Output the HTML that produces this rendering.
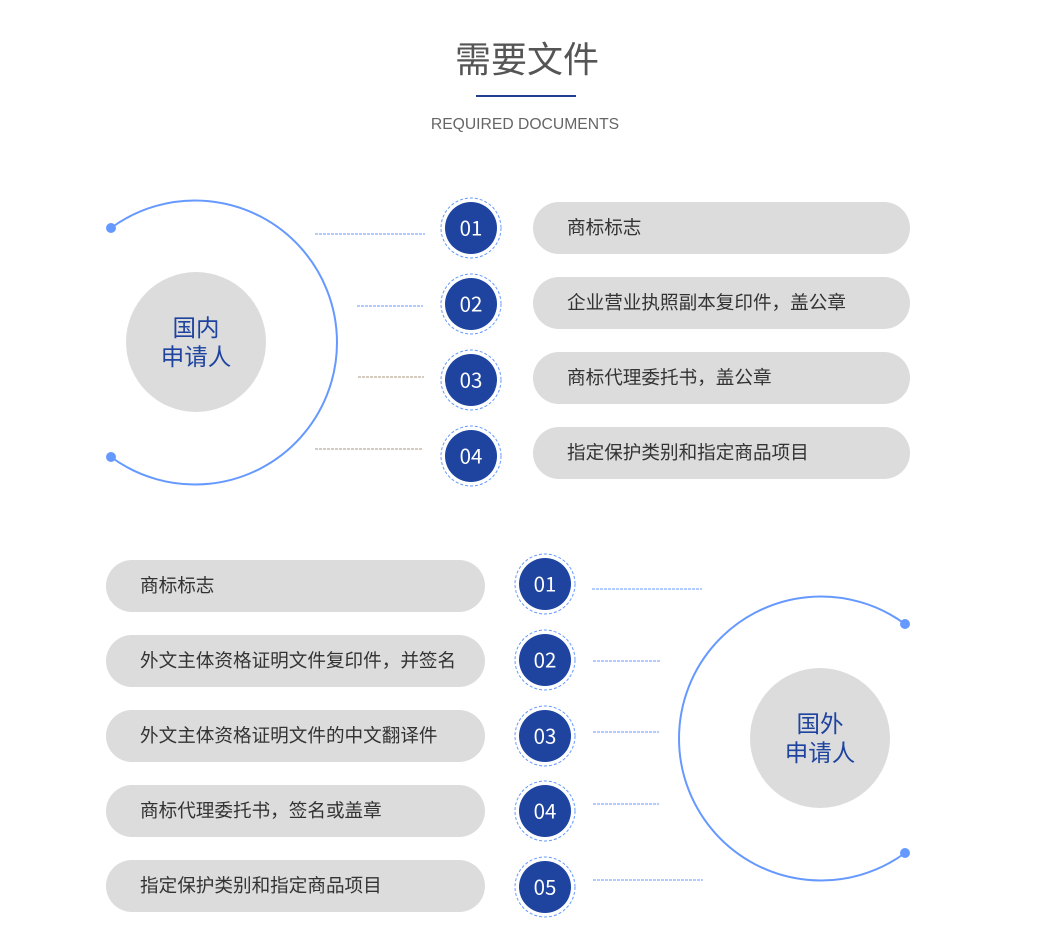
<!DOCTYPE html>
<html><head><meta charset="utf-8"><style>
body{margin:0;width:1057px;height:946px;background:#fff;overflow:hidden;font-family:"Liberation Sans","Noto Sans CJK SC",sans-serif;}
</style></head><body>
<svg width="1057" height="946" xmlns="http://www.w3.org/2000/svg" style="position:absolute;left:0;top:0">
<text x="527" y="72" text-anchor="middle" font-size="36" fill="#555" font-family="Noto Sans CJK SC, sans-serif">需要文件</text>
<rect x="476" y="95" width="100" height="2" fill="#1e3f94"/>
<text x="525" y="129" text-anchor="middle" font-size="15.7" fill="#666" font-family="Liberation Sans, sans-serif">REQUIRED DOCUMENTS</text>

<path d="M111 228 A142 142 0 1 1 111 457" fill="none" stroke="#6699ff" stroke-width="2"/>
<circle cx="111" cy="228" r="5" fill="#6699ff"/><circle cx="111" cy="457" r="5" fill="#6699ff"/>
<circle cx="196" cy="342" r="70" fill="#dcdcdc"/>
<text x="196" y="336" text-anchor="middle" font-size="23.5" fill="#1e44a0" font-family="Noto Sans CJK SC, sans-serif">国内</text>
<text x="196" y="365" text-anchor="middle" font-size="23.5" fill="#1e44a0" font-family="Noto Sans CJK SC, sans-serif">申请人</text>
<g stroke-width="1" stroke-dasharray="3,1">
<line x1="315" y1="234" x2="425" y2="234" stroke="#6699ff"/>
<line x1="357" y1="306" x2="423" y2="306" stroke="#6699ff"/>
<line x1="358" y1="377" x2="424" y2="377" stroke="#a89a80"/>
<line x1="315" y1="449" x2="423" y2="449" stroke="#a89a80"/>
</g>
<g font-family="Noto Sans CJK SC, sans-serif">
<g transform="translate(471,228)"><circle r="30" fill="none" stroke="#6699ff" stroke-dasharray="3,2"/><circle r="26" fill="#1e44a0"/><text y="7.5" text-anchor="middle" font-size="20.5" fill="#fff">01</text></g>
<g transform="translate(471,304)"><circle r="30" fill="none" stroke="#6699ff" stroke-dasharray="3,2"/><circle r="26" fill="#1e44a0"/><text y="7.5" text-anchor="middle" font-size="20.5" fill="#fff">02</text></g>
<g transform="translate(471,380)"><circle r="30" fill="none" stroke="#6699ff" stroke-dasharray="3,2"/><circle r="26" fill="#1e44a0"/><text y="7.5" text-anchor="middle" font-size="20.5" fill="#fff">03</text></g>
<g transform="translate(471,456)"><circle r="30" fill="none" stroke="#6699ff" stroke-dasharray="3,2"/><circle r="26" fill="#1e44a0"/><text y="7.5" text-anchor="middle" font-size="20.5" fill="#fff">04</text></g>
<rect x="533" y="202" width="377" height="52" rx="26" fill="#dcdcdc"/><text x="567" y="234" font-size="18.6" fill="#333">商标标志</text>
<rect x="533" y="277" width="377" height="52" rx="26" fill="#dcdcdc"/><text x="567" y="309" font-size="18.6" fill="#333">企业营业执照副本复印件，盖公章</text>
<rect x="533" y="352" width="377" height="52" rx="26" fill="#dcdcdc"/><text x="567" y="384" font-size="18.6" fill="#333">商标代理委托书，盖公章</text>
<rect x="533" y="427" width="377" height="52" rx="26" fill="#dcdcdc"/><text x="567" y="459" font-size="18.6" fill="#333">指定保护类别和指定商品项目</text>
</g>

<path d="M905 624 A142 142 0 1 0 905 853" fill="none" stroke="#6699ff" stroke-width="2"/>
<circle cx="905" cy="624" r="5" fill="#6699ff"/><circle cx="905" cy="853" r="5" fill="#6699ff"/>
<circle cx="820" cy="738" r="70" fill="#dcdcdc"/>
<text x="820" y="732" text-anchor="middle" font-size="23.5" fill="#1e44a0" font-family="Noto Sans CJK SC, sans-serif">国外</text>
<text x="820" y="761" text-anchor="middle" font-size="23.5" fill="#1e44a0" font-family="Noto Sans CJK SC, sans-serif">申请人</text>
<g stroke-width="1" stroke-dasharray="3,1" stroke="#6699ff">
<line x1="592" y1="589" x2="702" y2="589"/>
<line x1="593" y1="661" x2="660" y2="661"/>
<line x1="593" y1="732" x2="659" y2="732"/>
<line x1="593" y1="804" x2="659" y2="804"/>
<line x1="593" y1="880" x2="703" y2="880"/>
</g>
<g font-family="Noto Sans CJK SC, sans-serif">
<g transform="translate(545,584)"><circle r="30" fill="none" stroke="#6699ff" stroke-dasharray="3,2"/><circle r="26" fill="#1e44a0"/><text y="7.5" text-anchor="middle" font-size="20.5" fill="#fff">01</text></g>
<g transform="translate(545,660)"><circle r="30" fill="none" stroke="#6699ff" stroke-dasharray="3,2"/><circle r="26" fill="#1e44a0"/><text y="7.5" text-anchor="middle" font-size="20.5" fill="#fff">02</text></g>
<g transform="translate(545,736)"><circle r="30" fill="none" stroke="#6699ff" stroke-dasharray="3,2"/><circle r="26" fill="#1e44a0"/><text y="7.5" text-anchor="middle" font-size="20.5" fill="#fff">03</text></g>
<g transform="translate(545,811)"><circle r="30" fill="none" stroke="#6699ff" stroke-dasharray="3,2"/><circle r="26" fill="#1e44a0"/><text y="7.5" text-anchor="middle" font-size="20.5" fill="#fff">04</text></g>
<g transform="translate(545,887)"><circle r="30" fill="none" stroke="#6699ff" stroke-dasharray="3,2"/><circle r="26" fill="#1e44a0"/><text y="7.5" text-anchor="middle" font-size="20.5" fill="#fff">05</text></g>
<rect x="106" y="560" width="379" height="52" rx="26" fill="#dcdcdc"/><text x="140" y="592" font-size="18.6" fill="#333">商标标志</text>
<rect x="106" y="635" width="379" height="52" rx="26" fill="#dcdcdc"/><text x="140" y="667" font-size="18.6" fill="#333">外文主体资格证明文件复印件，并签名</text>
<rect x="106" y="710" width="379" height="52" rx="26" fill="#dcdcdc"/><text x="140" y="742" font-size="18.6" fill="#333">外文主体资格证明文件的中文翻译件</text>
<rect x="106" y="785" width="379" height="52" rx="26" fill="#dcdcdc"/><text x="140" y="817" font-size="18.6" fill="#333">商标代理委托书，签名或盖章</text>
<rect x="106" y="860" width="379" height="52" rx="26" fill="#dcdcdc"/><text x="140" y="892" font-size="18.6" fill="#333">指定保护类别和指定商品项目</text>
</g>
</svg>
</body></html>
